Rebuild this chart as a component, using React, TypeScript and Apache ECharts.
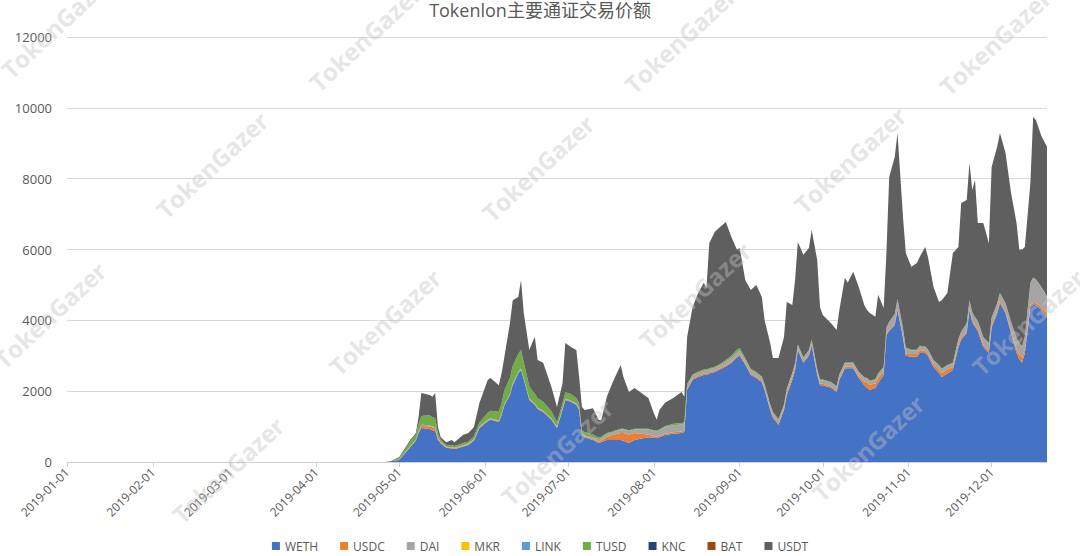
import React, { useEffect, useRef } from 'react';
import * as echarts from 'echarts';

const TITLE = 'Tokenlon主要通证交易价额';
const SERIES_NAMES = ['WETH', 'USDC', 'DAI', 'MKR', 'LINK', 'TUSD', 'KNC', 'BAT', 'USDT'];
const COLORS = ['#4472C4', '#ED7D31', '#A5A5A5', '#FFC000', '#5B9BD5', '#70AD47', '#264478', '#9E480E', '#5F5F5F'];

const DATES = [
  '2019-04-26', '2019-04-28',
  '2019-05-01', '2019-05-05', '2019-05-07', '2019-05-08', '2019-05-09', '2019-05-12', '2019-05-13', '2019-05-14', '2019-05-15', '2019-05-16', '2019-05-18', '2019-05-20', '2019-05-21', '2019-05-24', '2019-05-26', '2019-05-28', '2019-05-30',
  '2019-06-02', '2019-06-03', '2019-06-06', '2019-06-07', '2019-06-08', '2019-06-10', '2019-06-11', '2019-06-13', '2019-06-14', '2019-06-15', '2019-06-17', '2019-06-18', '2019-06-19', '2019-06-20', '2019-06-22', '2019-06-25', '2019-06-27', '2019-06-29', '2019-06-30',
  '2019-07-02', '2019-07-04', '2019-07-05', '2019-07-06', '2019-07-07', '2019-07-10', '2019-07-12', '2019-07-13', '2019-07-15', '2019-07-17', '2019-07-20', '2019-07-21', '2019-07-23', '2019-07-25', '2019-07-27', '2019-07-30',
  '2019-08-01', '2019-08-02', '2019-08-03', '2019-08-05', '2019-08-08', '2019-08-11', '2019-08-12', '2019-08-13', '2019-08-15', '2019-08-17', '2019-08-19', '2019-08-20', '2019-08-21', '2019-08-23', '2019-08-25', '2019-08-27', '2019-08-29', '2019-08-31',
  '2019-09-01', '2019-09-03', '2019-09-05', '2019-09-07', '2019-09-09', '2019-09-10', '2019-09-12', '2019-09-13', '2019-09-15', '2019-09-17', '2019-09-18', '2019-09-20', '2019-09-21', '2019-09-22', '2019-09-24', '2019-09-26', '2019-09-27', '2019-09-29', '2019-09-30',
  '2019-10-01', '2019-10-04', '2019-10-06', '2019-10-07', '2019-10-09', '2019-10-10', '2019-10-12', '2019-10-14', '2019-10-16', '2019-10-17', '2019-10-18', '2019-10-20', '2019-10-21', '2019-10-23', '2019-10-24', '2019-10-25', '2019-10-27', '2019-10-28', '2019-10-30', '2019-10-31',
  '2019-11-02', '2019-11-04', '2019-11-05', '2019-11-07', '2019-11-08', '2019-11-10', '2019-11-12', '2019-11-13', '2019-11-15', '2019-11-17', '2019-11-19', '2019-11-20', '2019-11-22', '2019-11-23', '2019-11-24', '2019-11-25', '2019-11-26', '2019-11-28', '2019-11-30',
  '2019-12-01', '2019-12-03', '2019-12-04', '2019-12-06', '2019-12-08', '2019-12-10', '2019-12-11', '2019-12-12', '2019-12-13', '2019-12-15', '2019-12-16', '2019-12-17', '2019-12-19', '2019-12-21',
];

const WETH = [
  0, 20,
  60, 420, 600, 820, 960, 930, 900, 880, 620, 520, 400, 380, 370, 430, 480, 600, 960,
  1150, 1190, 1130, 1330, 1600, 1890, 2170, 2500, 2600, 2320, 1750, 1680, 1610, 1500, 1410, 1190, 960, 1470, 1750,
  1700, 1610, 1470, 750, 700, 620, 540, 560, 620, 620, 620, 600, 540, 620, 660, 700,
  680, 680, 700, 760, 800, 820, 850, 2030, 2320, 2400, 2460, 2460, 2500, 2540, 2620, 2700, 2800, 2950,
  3000, 2750, 2460, 2370, 2250, 2030, 1470, 1250, 1050, 1470, 1890, 2320, 2600, 3160, 2800, 3000, 3300, 2460, 2170,
  2170, 2100, 1980, 2320, 2650, 2650, 2650, 2370, 2170, 2100, 2030, 2100, 2230, 2460, 3590, 3700, 3870, 4290, 3500, 3000,
  2970, 2970, 3080, 3080, 3000, 2680, 2510, 2400, 2500, 2600, 3250, 3450, 3640, 4290, 3950, 3810, 3700, 3250, 3080,
  3800, 4200, 4490, 4210, 3640, 3080, 2900, 2800, 3080, 4380, 4430, 4430, 4290, 4100,
];

const USDC = [
  0, 0,
  10, 20, 20, 30, 60, 80, 80, 70, 50, 30, 20, 30, 20, 20, 20, 20, 20,
  20, 20, 20, 20, 20, 20, 20, 20, 20, 20, 20, 20, 20, 20, 20, 20, 20, 20, 20,
  20, 20, 20, 20, 20, 30, 40, 50, 90, 140, 200, 220, 240, 200, 140, 80,
  50, 40, 40, 40, 40, 40, 40, 40, 40, 40, 40, 40, 40, 40, 40, 40, 40, 40,
  40, 40, 40, 40, 40, 40, 40, 40, 40, 40, 60, 80, 60, 40, 40, 40, 40, 40, 40,
  40, 40, 40, 40, 40, 40, 40, 60, 100, 150, 150, 120, 150, 100, 40, 40, 40, 40, 40, 60,
  80, 80, 80, 60, 60, 80, 100, 120, 120, 80, 60, 60, 60, 60, 60, 60, 60, 60, 60,
  60, 60, 60, 60, 60, 100, 150, 150, 100, 60, 60, 60, 80, 100,
];

const DAI = [
  0, 0,
  0, 10, 10, 20, 30, 30, 30, 30, 20, 20, 10, 10, 10, 20, 20, 20, 20,
  20, 20, 20, 20, 20, 20, 20, 20, 20, 20, 20, 20, 20, 20, 20, 20, 20, 20, 20,
  20, 20, 20, 30, 30, 50, 60, 60, 80, 80, 100, 100, 100, 100, 120, 140,
  150, 150, 150, 180, 200, 200, 200, 100, 80, 80, 80, 80, 80, 80, 80, 100, 100, 100,
  100, 100, 100, 100, 100, 100, 100, 100, 100, 100, 100, 100, 100, 100, 100, 100, 100, 100, 100,
  100, 100, 100, 100, 100, 100, 100, 100, 100, 100, 100, 100, 100, 100, 150, 200, 250, 250, 200, 150,
  100, 100, 100, 100, 100, 100, 100, 100, 100, 100, 150, 150, 200, 200, 200, 200, 200, 200, 200,
  200, 200, 200, 200, 250, 300, 300, 300, 350, 600, 700, 650, 550, 450,
];

const MKR: number[] = [];
const LINK: number[] = [];

const TUSD = [
  0, 0,
  40, 120, 150, 200, 250, 280, 250, 260, 120, 60, 40, 50, 50, 60, 60, 80, 120,
  200, 220, 250, 300, 380, 450, 500, 520, 520, 450, 350, 300, 280, 260, 250, 200, 120, 150, 180,
  180, 160, 140, 100, 100, 80, 50, 40, 30, 20, 20, 20, 20, 20, 20, 20,
  20, 20, 30, 40, 40, 40, 40, 30, 30, 30, 30, 30, 30, 30, 30, 40, 60, 80,
  80, 40, 30, 30, 20, 20, 20, 20, 20, 20, 20, 20, 20, 20, 20, 20, 20, 20, 20,
  20, 20, 20, 20, 20, 20, 20, 20, 20, 20, 20, 20, 20, 20, 20, 20, 20, 20, 20, 20,
  20, 20, 20, 20, 20, 20, 20, 20, 20, 20, 20, 20, 20, 20, 20, 20, 20, 20, 20,
  20, 20, 20, 20, 20, 20, 20, 20, 20, 20, 20, 20, 20, 20,
];

const KNC: number[] = [];
const BAT: number[] = [];

const USDT = [
  0, 10,
  30, 50, 40, 200, 650, 570, 580, 710, 180, 70, 90, 150, 110, 230, 240, 270, 550,
  930, 920, 750, 840, 950, 1540, 1860, 1600, 1980, 1400, 1020, 1340, 1600, 1080, 1100, 690, 430, 570, 1390,
  1330, 1350, 750, 650, 620, 740, 500, 470, 1020, 1370, 1800, 1460, 1080, 1150, 1040, 870,
  480, 300, 550, 650, 730, 880, 710, 1330, 1910, 2220, 2450, 2300, 3530, 3810, 3870, 3900, 3350, 2820,
  2820, 2210, 2230, 2460, 2250, 1810, 1730, 1530, 1730, 1900, 2450, 1910, 2360, 2890, 2890, 2880, 3090, 3080, 2050,
  1820, 1660, 1590, 1810, 2390, 2250, 2560, 2390, 2040, 1920, 1910, 1760, 2220, 1670, 2100, 4090, 4430, 4690, 3140, 2670,
  2340, 2450, 2510, 2810, 2610, 2060, 1790, 1930, 2030, 3100, 2590, 3630, 3480, 3870, 3450, 3870, 2770, 3220, 2820,
  4250, 4420, 4520, 4240, 3630, 3250, 2620, 2730, 2520, 2820, 4530, 4500, 4260, 4230,
];

const SERIES_VALUES = [WETH, USDC, DAI, MKR, LINK, TUSD, KNC, BAT, USDT];

const WATERMARKS = [
  [57, 25], [365, 38], [680, 40], [995, 42],
  [212, 165], [538, 168], [850, 160],
  [50, 315], [385, 322], [695, 295], [1028, 322],
  [228, 470], [557, 452], [868, 448],
];

const TEXT = '#595959';
const FONT = '"Open Sans", "Noto Sans CJK SC", sans-serif';

export default function App() {
  const ref = useRef<HTMLDivElement>(null);
  useEffect(() => {
    if (!ref.current) return;
    const chart = echarts.init(ref.current, undefined, { renderer: 'svg' });
    const DAY = 86400000;
    chart.setOption({
      animation: false,
      backgroundColor: '#ffffff',
      color: COLORS,
      title: {
        text: TITLE,
        left: 'center',
        top: 0,
        padding: [1, 5, 1, 5],
        textStyle: { color: TEXT, fontSize: 18, fontWeight: 'normal', fontFamily: FONT },
      },
      legend: {
        data: SERIES_NAMES,
        top: 535,
        left: 'center',
        icon: 'rect',
        itemWidth: 8,
        itemHeight: 8,
        itemGap: 22,
        textStyle: { color: TEXT, fontSize: 12, fontFamily: FONT },
      },
      grid: { left: 67, right: 33, top: 37, bottom: 94, containLabel: false },
      xAxis: {
        type: 'time',
        min: '2019-01-01',
        max: '2019-12-21',
        minInterval: 28 * DAY,
        maxInterval: 31 * DAY,
        splitNumber: 12,
        axisLine: { show: true, lineStyle: { color: '#d0d0d0', width: 1 } },
        axisTick: { show: true, length: 5, lineStyle: { color: '#d0d0d0' } },
        splitLine: { show: false },
        axisLabel: {
          rotate: 45,
          formatter: '{yyyy}-{MM}-{dd}',
          color: TEXT,
          fontSize: 12,
          fontFamily: FONT,
          margin: 8,
        },
      },
      yAxis: {
        type: 'value',
        min: 0,
        max: 12000,
        interval: 2000,
        axisLine: { show: false },
        axisTick: { show: false },
        splitLine: { show: true, lineStyle: { color: '#d9d9d9', width: 1 } },
        axisLabel: {
          color: TEXT,
          fontSize: 13,
          fontFamily: FONT,
          margin: 15,
          formatter: (v: number) => String(v),
        },
      },
      series: SERIES_NAMES.map((name, k) => ({
        name,
        type: 'line',
        stack: 'total',
        symbol: 'none',
        showSymbol: false,
        lineStyle: { width: 0 },
        areaStyle: { opacity: 1, color: COLORS[k] },
        itemStyle: { color: COLORS[k] },
        data: SERIES_VALUES[k].map((v, i) => [DATES[i], v]),
      })),
      graphic: WATERMARKS.map(([x, y]) => ({
        type: 'text',
        x,
        y,
        rotation: 0.75,
        z: 100,
        silent: true,
        style: {
          text: 'TokenGazer',
          fontSize: 24,
          fontWeight: 'bold',
          fontFamily: '"Open Sans", sans-serif',
          fill: 'rgba(195,195,195,0.42)',
          align: 'center',
          verticalAlign: 'middle',
        },
      })),
    });
    return () => chart.dispose();
  }, []);
  return (
    <div
      ref={ref}
      style={{ position: 'fixed', left: 0, top: 0, width: 1080, height: 556 }}
    />
  );
}
